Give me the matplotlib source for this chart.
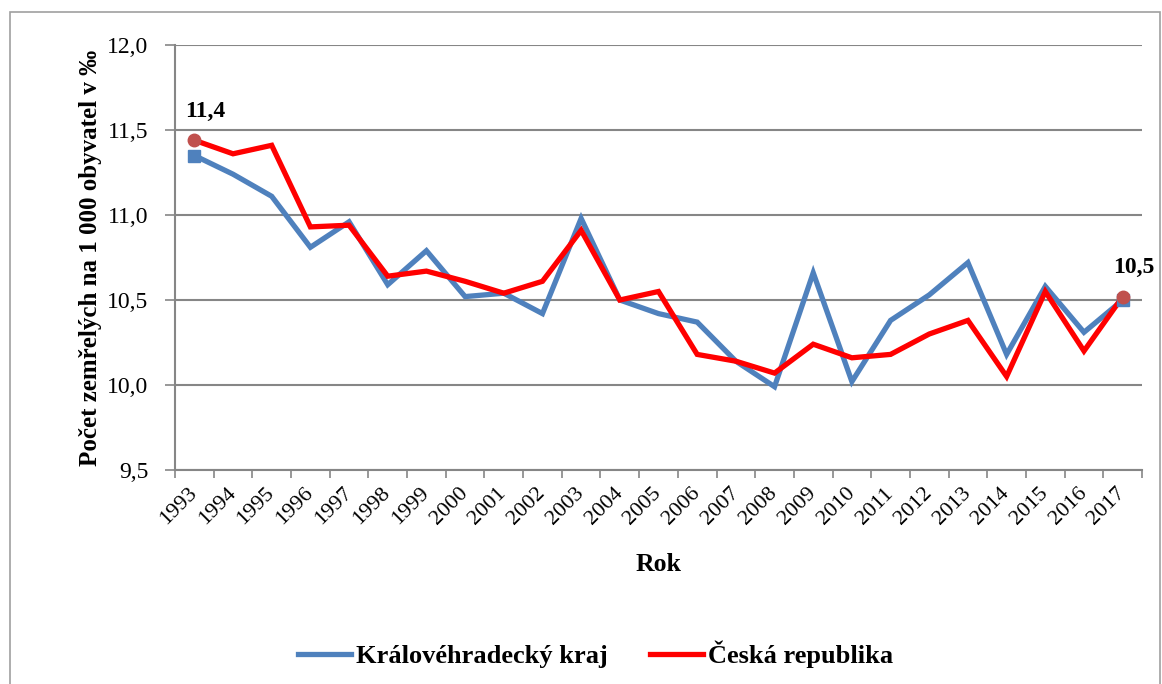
#!/usr/bin/env python3
import numpy as np
import matplotlib
matplotlib.use('Agg')
import matplotlib.pyplot as plt
from matplotlib.patches import Rectangle

plt.rcParams['font.family'] = ['Liberation Serif', 'DejaVu Serif']

#%% data
roky = [str(r) for r in range(1993, 2018)]
kraj = [11.35, 11.24, 11.11, 10.81, 10.96, 10.59, 10.79, 10.52, 10.54, 10.42,
        10.98, 10.50, 10.42, 10.37, 10.14, 9.99, 10.66, 10.02, 10.38, 10.53,
        10.72, 10.18, 10.58, 10.31, 10.50]
cr = [11.44, 11.36, 11.41, 10.93, 10.94, 10.64, 10.67, 10.61, 10.54, 10.61,
      10.91, 10.50, 10.55, 10.18, 10.14, 10.07, 10.24, 10.16, 10.18, 10.30,
      10.38, 10.05, 10.55, 10.20, 10.52]
popisky = {0: '11,4', 24: '10,5'}

modra = '#4F81BD'
cervena = '#FF0000'
seda = '#868686'

fig = plt.figure(figsize=(11.62, 6.84), dpi=100)
fig.patches.append(Rectangle((10/1162, -0.05), 1150/1162, 1.05 - 12/684,
                             transform=fig.transFigure, fill=False,
                             edgecolor='#A0A0A0', linewidth=1.2))

ax = fig.add_axes([175/1162, 1 - 470/684, 967/1162, 425/684])
x = np.arange(len(roky))

ax.plot(x, kraj, color=modra, lw=3.8, solid_joinstyle='miter', label='Královéhradecký kraj', zorder=3)
ax.plot(x, cr, color=cervena, lw=3.8, solid_joinstyle='miter', label='Česká republika', zorder=4)

# zvýrazněný první a poslední rok
for i in popisky:
    ax.plot(x[i], kraj[i], 's', color=modra, ms=9, zorder=5)
    ax.plot(x[i], cr[i], 'o', color='#C0504D', ms=9, zorder=6)
    ax.annotate(popisky[i], (x[i], cr[i]), xytext=(8, 21), textcoords='offset points',
                ha='center', va='center', fontsize=17, fontweight='bold')

ax.set_xlim(-0.5, len(roky) - 0.5)
ax.set_ylim(9.5, 12.0)
ax.set_yticks(np.arange(9.5, 12.01, 0.5))
ax.set_yticklabels([f'{v:.1f}'.replace('.', ',') for v in np.arange(9.5, 12.01, 0.5)], fontsize=17)
ax.grid(axis='y', color=seda, lw=1.5)
ax.set_axisbelow(True)

ax.set_xticks(np.arange(-0.5, len(roky)), labels=[])
ax.set_xticks(x, labels=roky, minor=True)
ax.tick_params(axis='x', which='major', length=6, color=seda, width=1.2)
ax.tick_params(axis='x', which='minor', length=0, labelsize=16, pad=15)
ax.tick_params(axis='y', length=7, color=seda, width=1.2, pad=12)
for lab in ax.get_xticklabels(minor=True):
    lab.set_rotation(45)
    lab.set_ha('right')
    lab.set_va('center')
    lab.set_rotation_mode('anchor')

for s in ['top', 'right']:
    ax.spines[s].set_visible(False)
for s in ['left', 'bottom']:
    ax.spines[s].set_color(seda)
    ax.spines[s].set_linewidth(1.5)

ax.set_xlabel('Rok', fontsize=18.5, fontweight='bold', labelpad=17)
ax.set_ylabel('Počet zemřelých na 1 000 obyvatel v ‰', fontsize=18, fontweight='bold', labelpad=4)

ax.legend(loc='center', bbox_to_anchor=(596/1162, 1 - 654/684), bbox_transform=fig.transFigure,
          ncol=2, frameon=False, handlelength=2.0, handletextpad=0.2, columnspacing=1.6,
          prop={'size': 19, 'weight': 'bold'})

fig.savefig('out.png', dpi=100)
